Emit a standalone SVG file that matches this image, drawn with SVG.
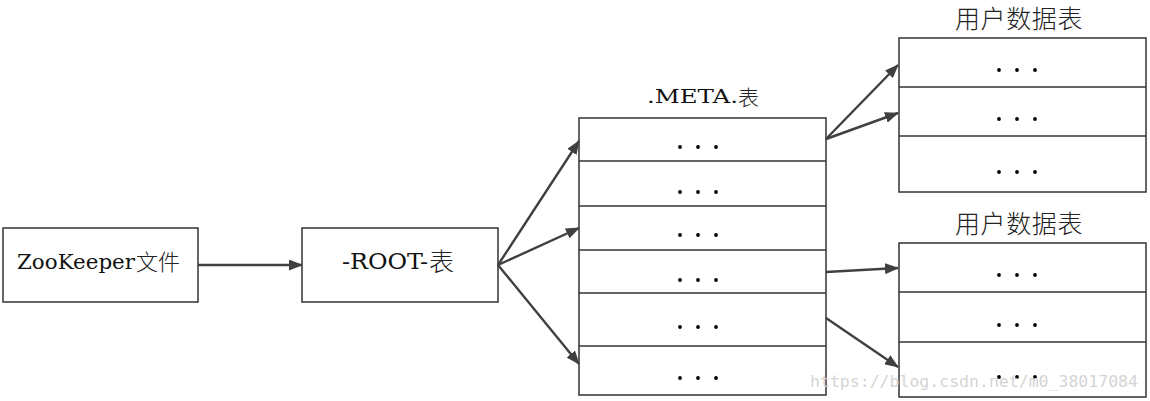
<svg xmlns="http://www.w3.org/2000/svg" width="1150" height="401" viewBox="0 0 1150 401">
<style>
.box{fill:#fff;stroke:#333;stroke-width:1.5}
.sep{stroke:#333;stroke-width:1.5}
.dot{fill:#000}
.conn{stroke:#404040;stroke-width:2.4;fill:none}
.cjk{font-family:"Noto Sans CJK SC",sans-serif;fill:#222}
.ser{font-family:"DejaVu Serif","Liberation Serif",serif;fill:#111}
</style>
<defs>
<marker id="ah" viewBox="0 0 14 11" refX="13" refY="5.5" markerWidth="14" markerHeight="11" markerUnits="userSpaceOnUse" orient="auto">
<path d="M0,0 L14,5.5 L0,11 z" fill="#404040"/>
</marker>
<g id="dots3"><circle cx="0" cy="0" r="1.9" class="dot"/><circle cx="18" cy="0" r="1.9" class="dot"/><circle cx="36" cy="0" r="1.9" class="dot"/></g>
</defs>
<rect width="1150" height="401" fill="#fff"/>

<g id="zookeeper">
<rect class="box" x="3" y="228" width="195" height="74"/>
<text class="ser" x="17" y="269" font-size="20" font-weight="300" textLength="118" lengthAdjust="spacingAndGlyphs">ZooKeeper</text>
<text class="cjk" x="136" y="270" font-size="22" font-weight="300">文件</text>
</g>

<g id="root">
<rect class="box" x="302" y="228" width="196" height="74"/>
<text class="ser" x="342" y="269" font-size="23" textLength="86" lengthAdjust="spacingAndGlyphs">-ROOT-</text>
<text class="cjk" x="429" y="271" font-size="25" font-weight="300">表</text>
</g>

<g id="meta">
<text class="ser" x="647" y="103" font-size="19" textLength="91" lengthAdjust="spacingAndGlyphs">.META.</text>
<text class="cjk" x="738" y="105" font-size="21" font-weight="300">表</text>
<rect class="box" x="579" y="118" width="247" height="277"/>
<line class="sep" x1="579" y1="161" x2="826" y2="161"/>
<line class="sep" x1="579" y1="206" x2="826" y2="206"/>
<line class="sep" x1="579" y1="250" x2="826" y2="250"/>
<line class="sep" x1="579" y1="293" x2="826" y2="293"/>
<line class="sep" x1="579" y1="346" x2="826" y2="346"/>
<use href="#dots3" x="680" y="147"/>
<use href="#dots3" x="680" y="192"/>
<use href="#dots3" x="680" y="235"/>
<use href="#dots3" x="680" y="280"/>
<use href="#dots3" x="680" y="327"/>
<use href="#dots3" x="680" y="378"/>
</g>

<g id="user1">
<text class="cjk" x="1019" y="28" font-size="25" font-weight="300" text-anchor="middle" letter-spacing="0.6">用户数据表</text>
<rect class="box" x="899" y="38" width="247" height="154"/>
<line class="sep" x1="899" y1="87" x2="1146" y2="87"/>
<line class="sep" x1="899" y1="136" x2="1146" y2="136"/>
<use href="#dots3" x="999" y="70"/>
<use href="#dots3" x="999" y="119"/>
<use href="#dots3" x="999" y="172"/>
</g>

<g id="user2">
<text class="cjk" x="1019" y="233" font-size="25" font-weight="300" text-anchor="middle" letter-spacing="0.6">用户数据表</text>
<rect class="box" x="899" y="243" width="247" height="154"/>
<line class="sep" x1="899" y1="292" x2="1146" y2="292"/>
<line class="sep" x1="899" y1="342" x2="1146" y2="342"/>
<use href="#dots3" x="999" y="275"/>
<use href="#dots3" x="999" y="325"/>
<use href="#dots3" x="999" y="377"/>
</g>

<g id="connectors">
<line class="conn" x1="198" y1="265" x2="302" y2="265" marker-end="url(#ah)"/>
<line class="conn" x1="498" y1="265" x2="579" y2="141" marker-end="url(#ah)"/>
<line class="conn" x1="498" y1="265" x2="579" y2="228" marker-end="url(#ah)"/>
<line class="conn" x1="498" y1="265" x2="579" y2="364" marker-end="url(#ah)"/>
<line class="conn" x1="826" y1="139" x2="898" y2="65" marker-end="url(#ah)"/>
<line class="conn" x1="826" y1="139" x2="898" y2="113" marker-end="url(#ah)"/>
<line class="conn" x1="826" y1="272" x2="898" y2="268" marker-end="url(#ah)"/>
<line class="conn" x1="826" y1="318" x2="898" y2="367" marker-end="url(#ah)"/>
</g>

<text font-family="DejaVu Sans Mono, monospace" fill="#d4d4d4" font-size="16.5" x="810" y="387" textLength="328" lengthAdjust="spacingAndGlyphs">https://blog.csdn.net/m0_38017084</text>
</svg>
